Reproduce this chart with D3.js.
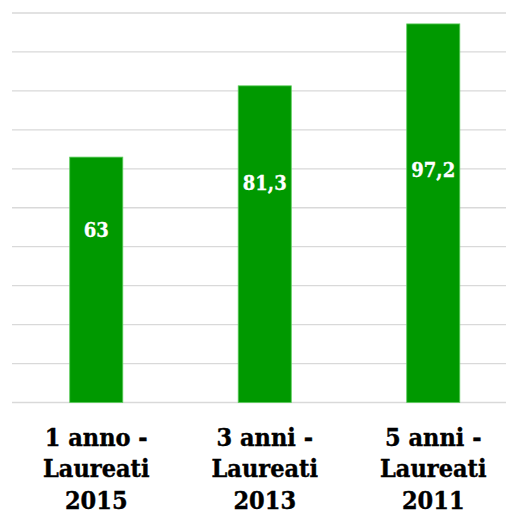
<!DOCTYPE html>
<html>
<head>
<meta charset="utf-8">
<script src="https://cdn.jsdelivr.net/npm/d3@7"></script>
<style>
  body { margin: 0; background: #fff; }
  svg { display: block; }
  text { font-family: "DejaVu Serif Condensed", "DejaVu Serif", serif; font-stretch: condensed; font-weight: bold; }
</style>
</head>
<body>
<svg id="chart" width="506" height="515"></svg>
<script>
// data
const categories = [
  ["1 anno -", "Laureati", "2015"],
  ["3 anni -", "Laureati", "2013"],
  ["5 anni -", "Laureati", "2011"]
];
const values = [63, 81.3, 97.2];
const valueLabels = ["63", "81,3", "97,2"];
const gridTicks = d3.range(0, 101, 10);

const W = 506, H = 515;
const svg = d3.select("#chart");

const x = d3.scaleBand()
  .domain(d3.range(values.length))
  .range([12, 517.5])
  .paddingInner(0.685)
  .paddingOuter(0.3425);

const y = d3.scaleLinear().domain([0, 100]).range([402.5, 13]);

// gridlines
svg.append("g").selectAll("line")
  .data(gridTicks)
  .enter().append("line")
  .attr("x1", 12).attr("x2", W)
  .attr("y1", d => y(d)).attr("y2", d => y(d))
  .style("stroke", "#d9d9d9")
  .style("stroke-width", 1.3);

// bars
svg.append("g").selectAll("rect")
  .data(values)
  .enter().append("rect")
  .attr("x", (d, i) => x(i))
  .attr("width", x.bandwidth())
  .attr("y", d => y(d))
  .attr("height", d => y(0) - y(d))
  .style("fill", "#009900")
  .style("stroke", "#5ccc5c")
  .style("stroke-width", 0.8);

// where the value labels sit (in value units)
const labelAt = [44.3, 56.4, 59.8];

svg.append("g").selectAll("text")
  .data(valueLabels)
  .enter().append("text")
  .attr("x", (d, i) => x(i) + x.bandwidth() / 2)
  .attr("y", (d, i) => y(labelAt[i]))
  .attr("dy", "0.35em")
  .attr("text-anchor", "middle")
  .style("fill", "#fff")
  .style("stroke", "#fff")
  .style("stroke-width", 0.3)
  .style("font-size", "20px")
  .text(d => d);

// category labels
const cat = svg.append("g").selectAll("text")
  .data(categories)
  .enter().append("text")
  .attr("text-anchor", "middle")
  .style("fill", "#000")
  .style("stroke", "#000")
  .style("stroke-width", 0.4)
  .style("font-size", "25px");

cat.selectAll("tspan")
  .data((d, i) => d.map(t => ({t, i})))
  .enter().append("tspan")
  .attr("x", d => x(d.i) + x.bandwidth() / 2)
  .attr("y", (d, j) => 446 + j * 31.3)
  .text(d => d.t);
</script>
</body>
</html>
